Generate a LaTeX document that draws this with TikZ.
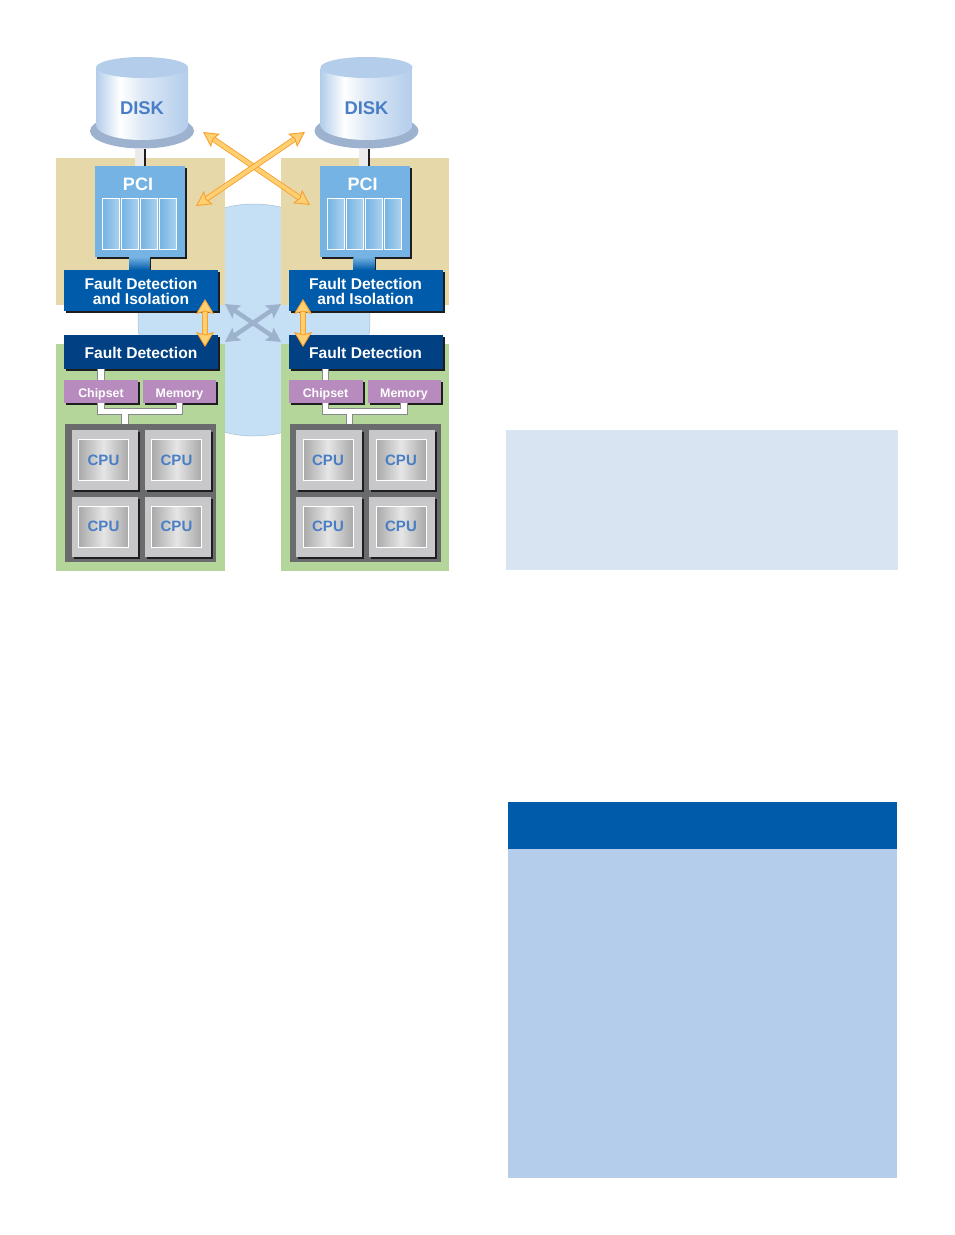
\documentclass[tikz,border=0pt]{standalone}
\usepackage{fontspec}
\setmainfont{Liberation Sans}
\usetikzlibrary{arrows.meta,positioning,shadows,shapes.geometric}

\definecolor{panelsand}{HTML}{E6D8A9}
\definecolor{panelgreen}{HTML}{B5D69A}
\definecolor{linkblue}{HTML}{C5DFF5}
\definecolor{pciblue}{HTML}{74B3E3}
\definecolor{faultblue}{HTML}{005BAA}
\definecolor{faultnavy}{HTML}{004083}
\definecolor{chipmauve}{HTML}{B88BBE}
\definecolor{boardgrey}{HTML}{6A6B6D}
\definecolor{cardgrey}{HTML}{C8C8CA}
\definecolor{cputext}{HTML}{4A7EC4}
\definecolor{diskblue}{HTML}{B3CDEB}
\definecolor{diskrim}{HTML}{9DB2CF}
\definecolor{sidedark}{HTML}{1E1E20}
\definecolor{arrowedge}{HTML}{F7A030}
\definecolor{arrowfill}{HTML}{FFD071}
\definecolor{crossblue}{HTML}{9DB2CC}
\definecolor{notepale}{HTML}{D9E4F3}

% disk body: dark edges, bright band left of the middle
\pgfdeclarehorizontalshading{diskface}{100bp}{
    color(0bp)=(diskblue); color(25bp)=(diskblue); color(38bp)=(white);
    color(50bp)=(diskblue!45); color(75bp)=(diskblue); color(100bp)=(diskblue)}

\begin{document}
\begin{tikzpicture}[
    x=1pt, y=-1pt,
    every node/.style={inner sep=0pt, outer sep=0pt, font=\bfseries},
    panel/.style={rectangle, anchor=north west},
    card/.style={
        rectangle,
        anchor=north west,
        general shadow={shadow xshift=2pt, shadow yshift=-2pt, fill=sidedark}
    },
    faultbox/.style={card, minimum width=154pt},
    faulttext/.style={text=white, align=center, yshift=-1pt,
        font=\bfseries\fontsize{15.6}{15.6}\selectfont},
    chipbox/.style={card, fill=chipmauve, text=white, minimum height=23pt, text height=12pt, text depth=0pt,
        font=\bfseries\fontsize{12.4}{12.4}\selectfont},
    slotbox/.style={rectangle, draw=white, line width=0.7pt, left color=pciblue, right color=pciblue!60,
        minimum width=17pt, minimum height=51pt},
    cpucard/.style={card, fill=cardgrey, minimum width=66pt, minimum height=60pt},
    cpuface/.style={rectangle, draw=white, line width=0.7pt, left color=black!34, right color=black!34,
        middle color=black!10, minimum width=50pt, minimum height=41pt, text=cputext, xshift=-1pt,
        font=\bfseries\fontsize{15}{15}\selectfont},
    bus/.style={draw=boardgrey!80, line width=7.4pt},
    businner/.style={draw=white, line width=5.6pt},
    duplex/.style 2 args={
        double=arrowfill, draw=arrowedge, double distance=#1, line width=0.9pt,
        {Stealth[width=#2, length=15pt, inset=2.5pt, fill=arrowfill, line width=0.9pt]}-{Stealth[width=#2, length=15pt, inset=2.5pt, fill=arrowfill, line width=0.9pt]}
    },
    heartbeat/.style={
        draw=crossblue, line width=4.4pt,
        {Stealth[width=15pt, length=14pt, inset=2.5pt]}-{Stealth[width=15pt, length=14pt, inset=2.5pt]}
    }
]

\useasboundingbox (0,0) rectangle (954,1235);

% interconnect disc sits behind both columns
\node[circle, fill=linkblue, draw=linkblue!85!black, line width=0.5pt, minimum size=232pt] (link) at (254,320) {};

\foreach \sd/\dx in {l/0, r/224.5} {
\begin{scope}[xshift=\dx pt]
    \node[panel, fill=panelsand, minimum width=168.6pt, minimum height=147pt] (io\sd) at (56,158) {};
    \node[panel, fill=panelgreen, minimum width=168.6pt, minimum height=227pt] (cell\sd) at (56,344) {};

    % disk: rim, then body with its lid
    \node[ellipse, fill=diskrim, minimum width=104pt, minimum height=35pt] (rim\sd) at (142,131) {};
    \shade[shading=diskface] (96,68) -- (96,125) arc[start angle=180, end angle=360, x radius=46pt, y radius=15pt] -- (188,68) -- cycle;
    \node[ellipse, fill=diskblue, minimum width=92pt, minimum height=21pt] (lid\sd) at (142,67.5) {};
    \node[text=cputext, font=\bfseries\fontsize{18.4}{18.4}\selectfont] (disk\sd) at (142,108) {DISK};

    % pci block
    \node[card, fill=pciblue, minimum width=90pt, minimum height=91pt] (pci\sd) at (95,166) {};
    \node[text=white, font=\bfseries\fontsize{18}{18}\selectfont, below=12pt of pci\sd.north, xshift=-2pt] (pcitext\sd) {PCI};
    \node[slotbox, anchor=north west] (slota\sd) at (102.5,198) {};
    \node[slotbox, right=2pt of slota\sd] (slotb\sd) {};
    \node[slotbox, right=2pt of slotb\sd] (slotc\sd) {};
    \node[slotbox, right=2pt of slotc\sd] (slotd\sd) {};

    \node[faultbox, fill=faultblue, minimum height=40.5pt] (iso\sd) at (64,270) {};
    \node[faulttext] (isotext\sd) at (iso\sd.center) {Fault Detection\\[-0.6pt]and Isolation};
    \node[faultbox, fill=faultnavy, minimum height=34pt] (det\sd) at (64,335) {};
    \node[faulttext] (dettext\sd) at (det\sd.center) {Fault Detection};

    \node[chipbox, minimum width=74pt] (chipset\sd) at (64,380) {Chipset};
    \node[chipbox, minimum width=73pt, right=5pt of chipset\sd] (memory\sd) {Memory};

    % cpu board
    \node[panel, fill=boardgrey, minimum width=151pt, minimum height=138pt] (board\sd) at (65,424) {};
    \node[cpucard] (cardaa\sd) at (71.5,430) {};
    \node[cpucard] (cardab\sd) at (144.5,430) {};
    \node[cpucard] (cardba\sd) at (71.5,496.5) {};
    \node[cpucard] (cardbb\sd) at (144.5,496.5) {};
    \node[cpuface] (cpuaa\sd) at (cardaa\sd.center) {CPU};
    \node[cpuface] (cpuab\sd) at (cardab\sd.center) {CPU};
    \node[cpuface] (cpuba\sd) at (cardba\sd.center) {CPU};
    \node[cpuface] (cpubb\sd) at (cardbb\sd.center) {CPU};

    % links between the blocks
    \draw[draw=sidedark, line width=11pt] (rim\sd.south -| pci\sd.north) -- (pci\sd.north);
    \draw[draw=white!92!black, line width=9pt] ([xshift=-1pt]rim\sd.south -| pci\sd.north) -- ([xshift=-1pt]pci\sd.north);
    \shade[top color=pciblue, bottom color=faultblue] (129,257) rectangle (150,270);
    \draw[sidedark, line width=1.2pt] (150.6,258) -- (150.6,270);
    \draw[bus] (det\sd.south -| chipset\sd) -- (chipset\sd.north);
    \draw[businner] (det\sd.south -| chipset\sd) -- (chipset\sd.north);
    \draw[bus] (chipset\sd.south) |- ([yshift=-8.5pt]memory\sd.south) -- (memory\sd.south);
    \draw[bus] ([xshift=-15.5pt]board\sd.north) -- ++(0,-11);
    \draw[businner] (chipset\sd.south) |- ([yshift=-8.5pt]memory\sd.south) -- (memory\sd.south);
    \draw[businner] ([xshift=-15.5pt]board\sd.north) -- ++(0,-11);
\end{scope}
}

% crossed links between the two sides
\coordinate (ula) at (203,132);
\coordinate (ulb) at (310,205);
\coordinate (ura) at (305,132);
\coordinate (urb) at (196,206);
\draw[duplex={3.8pt}{16pt}] (ula) -- (ulb);
\draw[duplex={3.8pt}{16pt}] (ura) -- (urb);

\coordinate (hba) at (225,304);
\coordinate (hbb) at (281,342);
\coordinate (hbc) at (281,304);
\coordinate (hbd) at (225,342);
\draw[heartbeat] (hba) -- (hbb);
\draw[heartbeat] (hbc) -- (hbd);

\coordinate (vla) at (205,299);
\coordinate (vlb) at (205,347);
\coordinate (vra) at (303,299);
\coordinate (vrb) at (303,347);
\draw[duplex={4.6pt}{18pt}] (vla) -- (vlb);
\draw[duplex={4.6pt}{18pt}] (vra) -- (vrb);

% blocks on the right of the page
\node[panel, fill=notepale, minimum width=392pt, minimum height=140pt] (note) at (506,430) {};
\node[panel, fill=faultblue, minimum width=389pt, minimum height=47pt] (tablehead) at (508,802) {};
\node[panel, fill=diskblue, minimum width=389pt, minimum height=329pt] (tablebody) at (tablehead.south west) {};

\end{tikzpicture}
\end{document}
